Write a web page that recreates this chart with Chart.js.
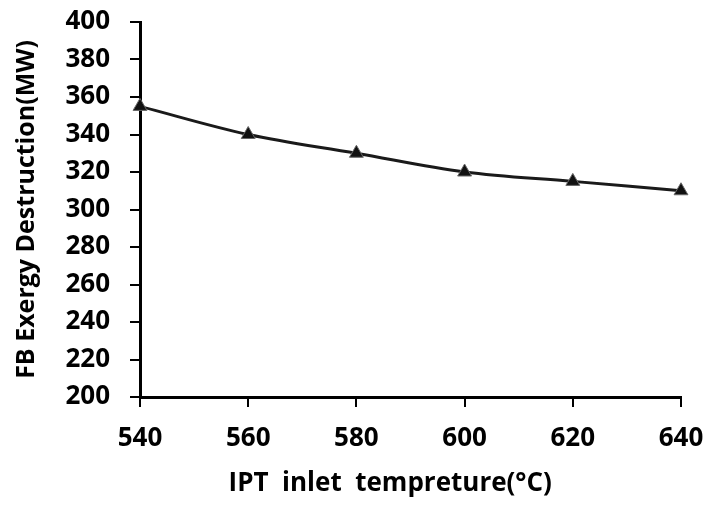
<!DOCTYPE html>
<html lang="en">
  <head>
    <meta charset="UTF-8" />
    <title>FB Exergy Destruction</title>
    <style>
      html, body { margin: 0; padding: 0; background: #fff; }
      #wrap { width: 707px; height: 511px; }
    </style>
  </head>
  <body>
    <div id="wrap"><canvas id="graphic"></canvas></div>
    <script src="https://cdn.jsdelivr.net/npm/chart.js"></script>
    <script>
      // datos
      const temps = [540, 560, 580, 600, 620, 640];
      const exergy = [355, 340, 330, 320, 315, 310];
      // espacios al final para correr el titulo un poco a la izquierda
      const xTitle = "IPT  inlet  tempreture(°C)      ";
      const yTitle = "FB Exergy Destruction(MW)";

      const fuenteTicks = { family: "Open Sans", size: 26, weight: "bold" };
      const fuenteX = { family: "Open Sans", size: 26, weight: "bold" };
      const fuenteY = { family: "Open Sans", size: 25, weight: "bold" };

      document.addEventListener("DOMContentLoaded", () => {
        const lienzo = document.getElementById("graphic");
        new Chart(lienzo, {
          type: "line",
          data: {
            datasets: [
              {
                data: temps.map((t, i) => ({ x: t, y: exergy[i] })),
                borderColor: "#1a1a1a",
                borderWidth: 3,
                tension: 0.35,
                pointStyle: "triangle",
                pointRadius: 8,
                pointBackgroundColor: "#111",
                pointBorderColor: "#666",
                pointBorderWidth: 1,
                clip: false,
              },
            ],
          },
          options: {
            responsive: true,
            maintainAspectRatio: false,
            animation: false,
            layout: { padding: { top: 22, right: 26, left: 0, bottom: 0 } },
            plugins: { legend: { display: false }, tooltip: { enabled: false } },
            scales: {
              x: {
                type: "linear",
                min: 540,
                max: 640,
                afterFit: (s) => { s.height = 114; s.paddingLeft = 0; s.paddingRight = 0; },
                ticks: { stepSize: 20, color: "#000", font: fuenteTicks, padding: 16 },
                grid: { drawOnChartArea: false, drawTicks: true, tickLength: 10, color: "#000", lineWidth: 2 },
                border: { display: true, color: "#000", width: 3 },
                title: { display: true, text: xTitle, color: "#000", font: fuenteX, padding: { top: 0, bottom: 12 } },
              },
              y: {
                min: 200,
                max: 400,
                afterFit: (s) => { s.width = 140; s.paddingTop = 0; s.paddingBottom = 0; },
                ticks: { stepSize: 20, color: "#000", font: fuenteTicks, padding: 20 },
                grid: { drawOnChartArea: false, drawTicks: true, tickLength: 10, color: "#000", lineWidth: 2 },
                border: { display: true, color: "#000", width: 3 },
                title: { display: true, text: yTitle, color: "#000", font: fuenteY, padding: { top: 12, bottom: 0 } },
              },
            },
          },
        });
      });
    </script>
  </body>
</html>
